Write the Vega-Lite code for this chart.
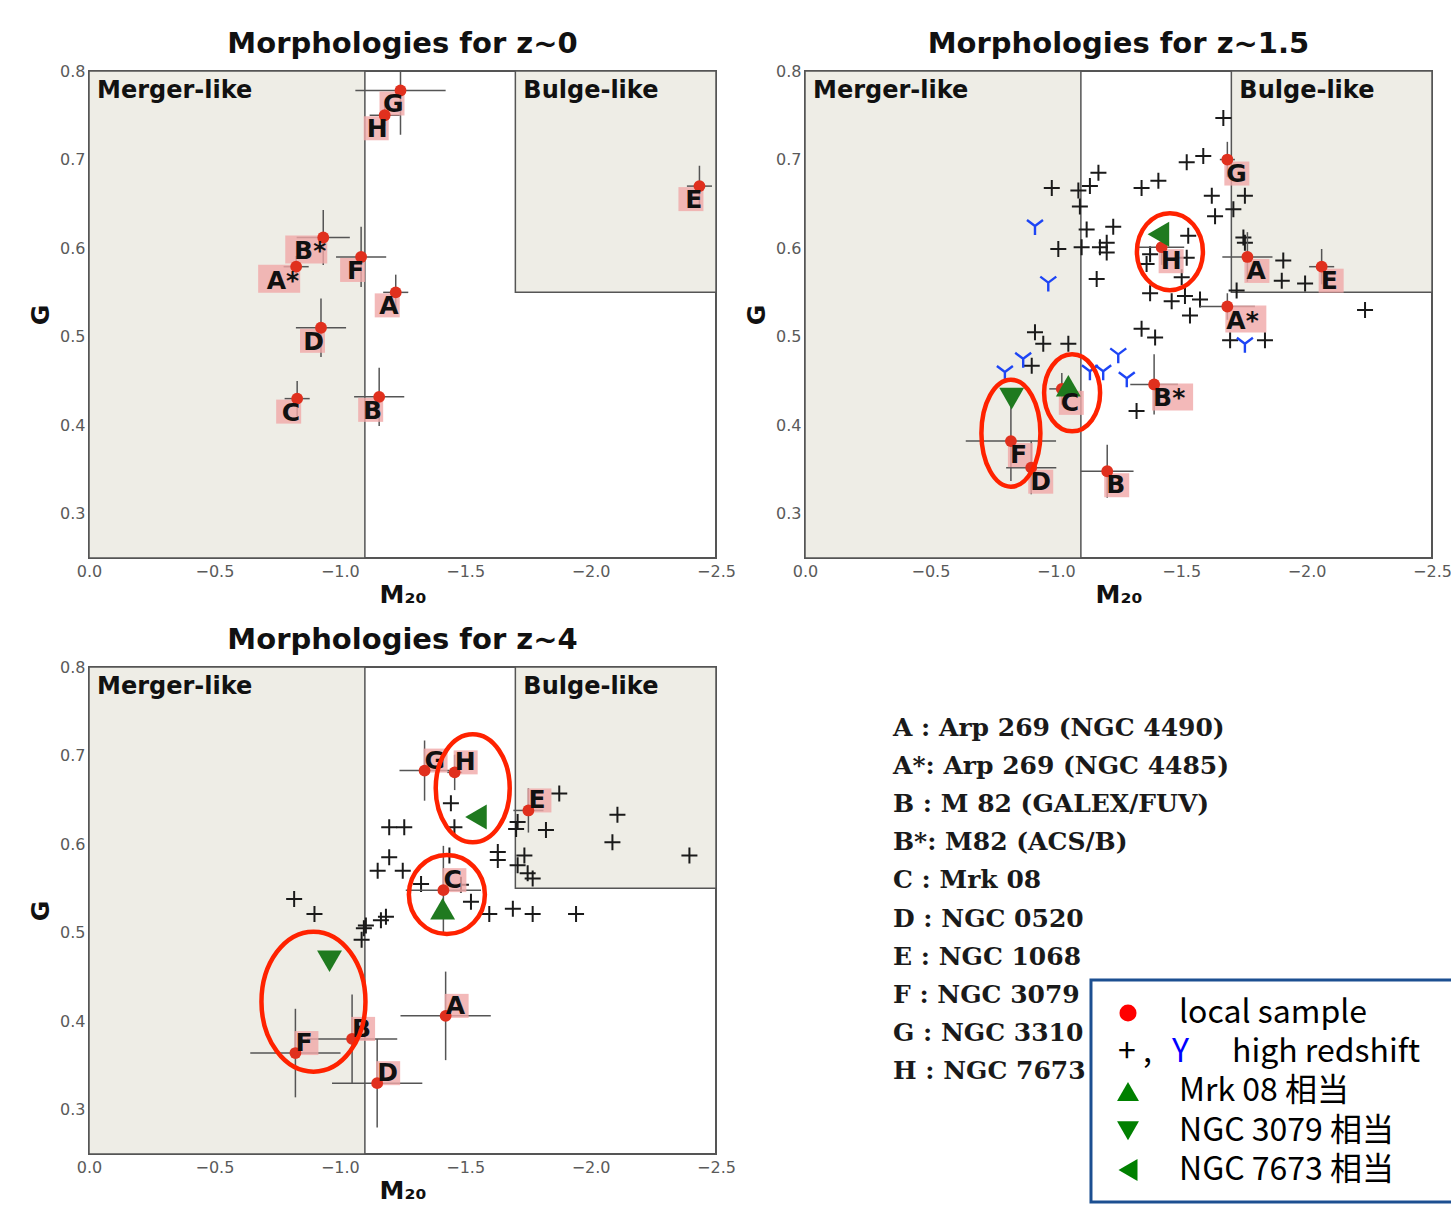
{
"$schema": "https://vega.github.io/schema/vega-lite/v6.json",
"background": "white",
"padding": {"left": 27, "top": 29, "right": 0, "bottom": 0},
"columns": 2,
"bounds": "flush",
"spacing": {"row": 109, "column": 89},
"resolve": {"scale": {"x": "independent", "y": "independent", "shape": "independent", "color": "independent"}},
"datasets": {
"regions": [
{"region": "Merger-like", "x1": 0, "x2": -1.1, "y1": 0.25, "y2": 0.8},
{"region": "Bulge-like", "x1": -1.7, "x2": -2.5, "y1": 0.55, "y2": 0.8}
],
"local": [
{"panel": "z~0", "label": "G", "M20": -1.242, "G": 0.778, "M20_lo": -1.062, "M20_hi": -1.422, "G_lo": 0.728, "G_hi": 0.828},
{"panel": "z~0", "label": "H", "M20": -1.179, "G": 0.750, "M20_lo": -1.119, "M20_hi": -1.239, "G_lo": 0.738, "G_hi": 0.762},
{"panel": "z~0", "label": "E", "M20": -2.434, "G": 0.670, "M20_lo": -2.384, "M20_hi": -2.484, "G_lo": 0.647, "G_hi": 0.693},
{"panel": "z~0", "label": "B*", "M20": -0.934, "G": 0.612, "M20_lo": -0.828, "M20_hi": -1.040, "G_lo": 0.581, "G_hi": 0.643},
{"panel": "z~0", "label": "A*", "M20": -0.826, "G": 0.579, "M20_lo": -0.776, "M20_hi": -0.876, "G_lo": 0.567, "G_hi": 0.591},
{"panel": "z~0", "label": "F", "M20": -1.085, "G": 0.590, "M20_lo": -0.985, "M20_hi": -1.185, "G_lo": 0.556, "G_hi": 0.624},
{"panel": "z~0", "label": "A", "M20": -1.223, "G": 0.550, "M20_lo": -1.173, "M20_hi": -1.273, "G_lo": 0.530, "G_hi": 0.570},
{"panel": "z~0", "label": "D", "M20": -0.925, "G": 0.510, "M20_lo": -0.825, "M20_hi": -1.025, "G_lo": 0.477, "G_hi": 0.543},
{"panel": "z~0", "label": "C", "M20": -0.830, "G": 0.430, "M20_lo": -0.780, "M20_hi": -0.880, "G_lo": 0.410, "G_hi": 0.450},
{"panel": "z~0", "label": "B", "M20": -1.157, "G": 0.432, "M20_lo": -1.057, "M20_hi": -1.257, "G_lo": 0.399, "G_hi": 0.465},
{"panel": "z~1.5", "label": "G", "M20": -1.684, "G": 0.700, "M20_lo": -1.654, "M20_hi": -1.714, "G_lo": 0.680, "G_hi": 0.720},
{"panel": "z~1.5", "label": "H", "M20": -1.422, "G": 0.601, "M20_lo": -1.332, "M20_hi": -1.512, "G_lo": 0.581, "G_hi": 0.621},
{"panel": "z~1.5", "label": "A", "M20": -1.764, "G": 0.590, "M20_lo": -1.664, "M20_hi": -1.864, "G_lo": 0.562, "G_hi": 0.618},
{"panel": "z~1.5", "label": "E", "M20": -2.060, "G": 0.579, "M20_lo": -2.010, "M20_hi": -2.110, "G_lo": 0.559, "G_hi": 0.599},
{"panel": "z~1.5", "label": "A*", "M20": -1.684, "G": 0.534, "M20_lo": -1.574, "M20_hi": -1.794, "G_lo": 0.519, "G_hi": 0.549},
{"panel": "z~1.5", "label": "B*", "M20": -1.392, "G": 0.446, "M20_lo": -1.297, "M20_hi": -1.487, "G_lo": 0.412, "G_hi": 0.480},
{"panel": "z~1.5", "label": "C", "M20": -1.024, "G": 0.441, "M20_lo": -0.974, "M20_hi": -1.074, "G_lo": 0.423, "G_hi": 0.459},
{"panel": "z~1.5", "label": "F", "M20": -0.821, "G": 0.382, "M20_lo": -0.641, "M20_hi": -1.001, "G_lo": 0.337, "G_hi": 0.427},
{"panel": "z~1.5", "label": "D", "M20": -0.902, "G": 0.352, "M20_lo": -0.802, "M20_hi": -1.002, "G_lo": 0.322, "G_hi": 0.382},
{"panel": "z~1.5", "label": "B", "M20": -1.205, "G": 0.348, "M20_lo": -1.100, "M20_hi": -1.310, "G_lo": 0.318, "G_hi": 0.378},
{"panel": "z~4", "label": "G", "M20": -1.338, "G": 0.683, "M20_lo": -1.238, "M20_hi": -1.438, "G_lo": 0.649, "G_hi": 0.717},
{"panel": "z~4", "label": "H", "M20": -1.458, "G": 0.681, "M20_lo": -1.428, "M20_hi": -1.488, "G_lo": 0.661, "G_hi": 0.701},
{"panel": "z~4", "label": "E", "M20": -1.752, "G": 0.638, "M20_lo": -1.692, "M20_hi": -1.812, "G_lo": 0.613, "G_hi": 0.663},
{"panel": "z~4", "label": "C", "M20": -1.413, "G": 0.548, "M20_lo": -1.263, "M20_hi": -1.563, "G_lo": 0.498, "G_hi": 0.598},
{"panel": "z~4", "label": "A", "M20": -1.422, "G": 0.406, "M20_lo": -1.242, "M20_hi": -1.602, "G_lo": 0.356, "G_hi": 0.456},
{"panel": "z~4", "label": "F", "M20": -0.823, "G": 0.364, "M20_lo": -0.643, "M20_hi": -1.003, "G_lo": 0.314, "G_hi": 0.414},
{"panel": "z~4", "label": "B", "M20": -1.049, "G": 0.380, "M20_lo": -0.869, "M20_hi": -1.229, "G_lo": 0.330, "G_hi": 0.430},
{"panel": "z~4", "label": "D", "M20": -1.149, "G": 0.330, "M20_lo": -0.969, "M20_hi": -1.329, "G_lo": 0.280, "G_hi": 0.380}
],
"highz": [
{"panel": "z~1.5", "type": "+", "M20": -1.668, "G": 0.747},
{"panel": "z~1.5", "type": "+", "M20": -1.588, "G": 0.704},
{"panel": "z~1.5", "type": "+", "M20": -1.522, "G": 0.697},
{"panel": "z~1.5", "type": "+", "M20": -1.409, "G": 0.676},
{"panel": "z~1.5", "type": "+", "M20": -1.342, "G": 0.668},
{"panel": "z~1.5", "type": "+", "M20": -0.984, "G": 0.668},
{"panel": "z~1.5", "type": "+", "M20": -1.170, "G": 0.685},
{"panel": "z~1.5", "type": "+", "M20": -1.136, "G": 0.670},
{"panel": "z~1.5", "type": "+", "M20": -1.090, "G": 0.665},
{"panel": "z~1.5", "type": "+", "M20": -1.096, "G": 0.647},
{"panel": "z~1.5", "type": "+", "M20": -1.622, "G": 0.659},
{"panel": "z~1.5", "type": "+", "M20": -1.754, "G": 0.659},
{"panel": "z~1.5", "type": "+", "M20": -1.708, "G": 0.644},
{"panel": "z~1.5", "type": "+", "M20": -1.635, "G": 0.636},
{"panel": "z~1.5", "type": "+", "M20": -1.123, "G": 0.621},
{"panel": "z~1.5", "type": "+", "M20": -1.229, "G": 0.624},
{"panel": "z~1.5", "type": "+", "M20": -1.203, "G": 0.606},
{"panel": "z~1.5", "type": "+", "M20": -1.103, "G": 0.601},
{"panel": "z~1.5", "type": "+", "M20": -1.010, "G": 0.599},
{"panel": "z~1.5", "type": "+", "M20": -1.203, "G": 0.595},
{"panel": "z~1.5", "type": "+", "M20": -1.163, "G": 0.565},
{"panel": "z~1.5", "type": "+", "M20": -1.528, "G": 0.614},
{"panel": "z~1.5", "type": "+", "M20": -1.748, "G": 0.612},
{"panel": "z~1.5", "type": "+", "M20": -1.754, "G": 0.606},
{"panel": "z~1.5", "type": "+", "M20": -1.907, "G": 0.586},
{"panel": "z~1.5", "type": "+", "M20": -1.901, "G": 0.563},
{"panel": "z~1.5", "type": "+", "M20": -1.994, "G": 0.560},
{"panel": "z~1.5", "type": "+", "M20": -1.721, "G": 0.552},
{"panel": "z~1.5", "type": "+", "M20": -1.376, "G": 0.549},
{"panel": "z~1.5", "type": "+", "M20": -1.462, "G": 0.540},
{"panel": "z~1.5", "type": "+", "M20": -1.515, "G": 0.546},
{"panel": "z~1.5", "type": "+", "M20": -1.575, "G": 0.542},
{"panel": "z~1.5", "type": "+", "M20": -1.535, "G": 0.524},
{"panel": "z~1.5", "type": "+", "M20": -2.233, "G": 0.530},
{"panel": "z~1.5", "type": "+", "M20": -1.342, "G": 0.509},
{"panel": "z~1.5", "type": "+", "M20": -1.396, "G": 0.499},
{"panel": "z~1.5", "type": "+", "M20": -1.695, "G": 0.496},
{"panel": "z~1.5", "type": "+", "M20": -1.834, "G": 0.496},
{"panel": "z~1.5", "type": "+", "M20": -0.917, "G": 0.505},
{"panel": "z~1.5", "type": "+", "M20": -0.950, "G": 0.492},
{"panel": "z~1.5", "type": "+", "M20": -1.050, "G": 0.492},
{"panel": "z~1.5", "type": "+", "M20": -0.904, "G": 0.467},
{"panel": "z~1.5", "type": "+", "M20": -1.322, "G": 0.416},
{"panel": "z~1.5", "type": "+", "M20": -1.376, "G": 0.593},
{"panel": "z~1.5", "type": "+", "M20": -1.522, "G": 0.589},
{"panel": "z~1.5", "type": "+", "M20": -1.176, "G": 0.601},
{"panel": "z~1.5", "type": "+", "M20": -1.362, "G": 0.582},
{"panel": "z~1.5", "type": "+", "M20": -1.502, "G": 0.567},
{"panel": "z~1.5", "type": "Y", "M20": -0.917, "G": 0.625},
{"panel": "z~1.5", "type": "Y", "M20": -0.970, "G": 0.561},
{"panel": "z~1.5", "type": "Y", "M20": -1.754, "G": 0.492},
{"panel": "z~1.5", "type": "Y", "M20": -0.870, "G": 0.475},
{"panel": "z~1.5", "type": "Y", "M20": -0.797, "G": 0.460},
{"panel": "z~1.5", "type": "Y", "M20": -1.249, "G": 0.480},
{"panel": "z~1.5", "type": "Y", "M20": -1.136, "G": 0.461},
{"panel": "z~1.5", "type": "Y", "M20": -1.189, "G": 0.461},
{"panel": "z~1.5", "type": "Y", "M20": -1.283, "G": 0.453},
{"panel": "z~4", "type": "+", "M20": -0.818, "G": 0.538},
{"panel": "z~4", "type": "+", "M20": -0.899, "G": 0.521},
{"panel": "z~4", "type": "+", "M20": -1.096, "G": 0.505},
{"panel": "z~4", "type": "+", "M20": -1.087, "G": 0.492},
{"panel": "z~4", "type": "+", "M20": -1.164, "G": 0.514},
{"panel": "z~4", "type": "+", "M20": -1.184, "G": 0.518},
{"panel": "z~4", "type": "+", "M20": -1.104, "G": 0.508},
{"panel": "z~4", "type": "+", "M20": -1.197, "G": 0.585},
{"panel": "z~4", "type": "+", "M20": -1.151, "G": 0.570},
{"panel": "z~4", "type": "+", "M20": -1.251, "G": 0.570},
{"panel": "z~4", "type": "+", "M20": -1.197, "G": 0.619},
{"panel": "z~4", "type": "+", "M20": -1.257, "G": 0.619},
{"panel": "z~4", "type": "+", "M20": -1.443, "G": 0.646},
{"panel": "z~4", "type": "+", "M20": -1.457, "G": 0.619},
{"panel": "z~4", "type": "+", "M20": -1.437, "G": 0.587},
{"panel": "z~4", "type": "+", "M20": -1.324, "G": 0.555},
{"panel": "z~4", "type": "+", "M20": -1.483, "G": 0.554},
{"panel": "z~4", "type": "+", "M20": -1.523, "G": 0.535},
{"panel": "z~4", "type": "+", "M20": -1.596, "G": 0.521},
{"panel": "z~4", "type": "+", "M20": -1.690, "G": 0.527},
{"panel": "z~4", "type": "+", "M20": -1.769, "G": 0.521},
{"panel": "z~4", "type": "+", "M20": -1.942, "G": 0.521},
{"panel": "z~4", "type": "+", "M20": -1.630, "G": 0.591},
{"panel": "z~4", "type": "+", "M20": -1.630, "G": 0.582},
{"panel": "z~4", "type": "+", "M20": -1.703, "G": 0.617},
{"panel": "z~4", "type": "+", "M20": -1.709, "G": 0.625},
{"panel": "z~4", "type": "+", "M20": -1.822, "G": 0.616},
{"panel": "z~4", "type": "+", "M20": -1.736, "G": 0.587},
{"panel": "z~4", "type": "+", "M20": -1.709, "G": 0.576},
{"panel": "z~4", "type": "+", "M20": -1.749, "G": 0.567},
{"panel": "z~4", "type": "+", "M20": -1.769, "G": 0.561},
{"panel": "z~4", "type": "+", "M20": -1.875, "G": 0.657},
{"panel": "z~4", "type": "+", "M20": -2.107, "G": 0.633},
{"panel": "z~4", "type": "+", "M20": -2.087, "G": 0.602},
{"panel": "z~4", "type": "+", "M20": -2.394, "G": 0.587}
],
"analog": [
{"panel": "z~1.5", "kind": "Mrk 08 相当", "M20": -1.050, "G": 0.4445},
{"panel": "z~1.5", "kind": "NGC 3079 相当", "M20": -0.824, "G": 0.430},
{"panel": "z~1.5", "kind": "NGC 7673 相当", "M20": -1.409, "G": 0.6157},
{"panel": "z~4", "kind": "Mrk 08 相当", "M20": -1.410, "G": 0.527},
{"panel": "z~4", "kind": "NGC 3079 相当", "M20": -0.959, "G": 0.4677},
{"panel": "z~4", "kind": "NGC 7673 相当", "M20": -1.543, "G": 0.6306}
],
"rings": [
{"panel": "z~1.5", "target": "H", "M20": -1.455, "G": 0.596},
{"panel": "z~1.5", "target": "C", "M20": -1.065, "G": 0.4365},
{"panel": "z~1.5", "target": "F", "M20": -0.821, "G": 0.391},
{"panel": "z~4", "target": "H", "M20": -1.530, "G": 0.663},
{"panel": "z~4", "target": "C", "M20": -1.427, "G": 0.543},
{"panel": "z~4", "target": "F", "M20": -0.895, "G": 0.422}
],
"catalog": [
{"line": 1, "text": "A : Arp 269 (NGC 4490)"},
{"line": 2, "text": "A*: Arp 269 (NGC 4485)"},
{"line": 3, "text": "B : M 82 (GALEX/FUV)"},
{"line": 4, "text": "B*: M82 (ACS/B)"},
{"line": 5, "text": "C : Mrk 08"},
{"line": 6, "text": "D : NGC 0520"},
{"line": 7, "text": "E : NGC 1068"},
{"line": 8, "text": "F : NGC 3079"},
{"line": 9, "text": "G : NGC 3310"},
{"line": 10, "text": "H : NGC 7673"}
],
"legend": [
{"order": 1, "label": "local sample"},
{"order": 2, "label": "high redshift"},
{"order": 3, "label": "Mrk 08 相当"},
{"order": 4, "label": "NGC 3079 相当"},
{"order": 5, "label": "NGC 7673 相当"}
]
},
"concat": [
{
"title": "Morphologies for z~0",
"width": 627, "height": 487,
"layer": [
{"data": {"name": "regions"}, "mark": {"type": "rect", "fill": "#eeede6", "stroke": "#555555", "strokeWidth": 1.5},
 "encoding": {"x": {"field": "x1", "type": "quantitative", "scale": {"domain": [-2.5, 0], "reverse": true, "nice": false, "zero": false}, "axis": {"title": "M₂₀", "values": [0, -0.5, -1, -1.5, -2, -2.5], "format": ".1f"}},
  "x2": {"field": "x2"},
  "y": {"field": "y1", "type": "quantitative", "scale": {"domain": [0.25, 0.8], "nice": false, "zero": false}, "axis": {"title": "G", "values": [0.3, 0.4, 0.5, 0.6, 0.7, 0.8], "format": ".1f"}},
  "y2": {"field": "y2"}}},
{"data": {"name": "regions"}, "mark": {"type": "text", "align": "left", "baseline": "middle", "dx": 8, "dy": 20, "fontSize": 24, "fontWeight": "bold", "color": "#111111"},
 "encoding": {"x": {"field": "x1", "type": "quantitative"}, "y": {"field": "y2", "type": "quantitative"}, "text": {"field": "region"}}},
{"data": {"name": "local"}, "transform": [{"filter": "datum.panel == 'z~0'"}], "mark": {"type": "rule", "color": "#555555", "strokeWidth": 1.5, "clip": true},
 "encoding": {"x": {"field": "M20_lo", "type": "quantitative"}, "x2": {"field": "M20_hi"}, "y": {"field": "G", "type": "quantitative"}}},
{"data": {"name": "local"}, "transform": [{"filter": "datum.panel == 'z~0'"}], "mark": {"type": "rule", "color": "#555555", "strokeWidth": 1.5, "clip": true},
 "encoding": {"x": {"field": "M20", "type": "quantitative"}, "y": {"field": "G_lo", "type": "quantitative"}, "y2": {"field": "G_hi"}}},
{"data": {"name": "local"}, "transform": [{"filter": "datum.panel == 'z~0' && length(datum.label) == 1"}], "mark": {"type": "point", "shape": "M -21 1 L 4 1 L 4 25 L -21 25 Z", "size": 4, "filled": true, "color": "#f0a8a8", "opacity": 0.8, "strokeWidth": 0},
 "encoding": {"x": {"field": "M20", "type": "quantitative"}, "y": {"field": "G", "type": "quantitative"}}},
{"data": {"name": "local"}, "transform": [{"filter": "datum.panel == 'z~0' && length(datum.label) == 2"}], "mark": {"type": "point", "shape": "M -38 -2 L 4 -2 L 4 26 L -38 26 Z", "size": 4, "filled": true, "color": "#f0a8a8", "opacity": 0.8, "strokeWidth": 0},
 "encoding": {"x": {"field": "M20", "type": "quantitative"}, "y": {"field": "G", "type": "quantitative"}}},
{"data": {"name": "local"}, "transform": [{"filter": "datum.panel == 'z~0'"}], "mark": {"type": "point", "shape": "circle", "filled": true, "size": 140, "color": "#e0301e", "opacity": 1, "clip": true},
 "encoding": {"x": {"field": "M20", "type": "quantitative"}, "y": {"field": "G", "type": "quantitative"}}},
{"data": {"name": "local"}, "transform": [{"filter": "datum.panel == 'z~0'"}], "mark": {"type": "text", "align": "right", "baseline": "middle", "dx": 3, "dy": 14, "fontSize": 25, "fontWeight": "bold", "color": "#111111"},
 "encoding": {"x": {"field": "M20", "type": "quantitative"}, "y": {"field": "G", "type": "quantitative"}, "text": {"field": "label"}}}
]
},
{
"title": "Morphologies for z~1.5",
"width": 627, "height": 487,
"resolve": {"scale": {"shape": "independent"}},
"layer": [
{"data": {"name": "regions"}, "mark": {"type": "rect", "fill": "#eeede6", "stroke": "#555555", "strokeWidth": 1.5},
 "encoding": {"x": {"field": "x1", "type": "quantitative", "scale": {"domain": [-2.5, 0], "reverse": true, "nice": false, "zero": false}, "axis": {"title": "M₂₀", "values": [0, -0.5, -1, -1.5, -2, -2.5], "format": ".1f"}},
  "x2": {"field": "x2"},
  "y": {"field": "y1", "type": "quantitative", "scale": {"domain": [0.25, 0.8], "nice": false, "zero": false}, "axis": {"title": "G", "values": [0.3, 0.4, 0.5, 0.6, 0.7, 0.8], "format": ".1f"}},
  "y2": {"field": "y2"}}},
{"data": {"name": "regions"}, "mark": {"type": "text", "align": "left", "baseline": "middle", "dx": 8, "dy": 20, "fontSize": 24, "fontWeight": "bold", "color": "#111111"},
 "encoding": {"x": {"field": "x1", "type": "quantitative"}, "y": {"field": "y2", "type": "quantitative"}, "text": {"field": "region"}}},
{"data": {"name": "highz"}, "transform": [{"filter": "datum.panel == 'z~1.5' && datum.type == '+'"}], "mark": {"type": "point", "shape": "M -8 0 L 8 0 M 0 -8 L 0 8", "size": 4, "filled": false, "color": "#1a1a1a", "strokeWidth": 2, "opacity": 1},
 "encoding": {"x": {"field": "M20", "type": "quantitative"}, "y": {"field": "G", "type": "quantitative"}}},
{"data": {"name": "highz"}, "transform": [{"filter": "datum.panel == 'z~1.5' && datum.type == 'Y'"}], "mark": {"type": "point", "shape": "M 0 0 L 0 9 M 0 0 L -8 -6 M 0 0 L 8 -6", "size": 4, "filled": false, "color": "#1d45f5", "strokeWidth": 2.4, "opacity": 1},
 "encoding": {"x": {"field": "M20", "type": "quantitative"}, "y": {"field": "G", "type": "quantitative"}}},
{"data": {"name": "local"}, "transform": [{"filter": "datum.panel == 'z~1.5'"}], "mark": {"type": "rule", "color": "#555555", "strokeWidth": 1.5, "clip": true},
 "encoding": {"x": {"field": "M20_lo", "type": "quantitative"}, "x2": {"field": "M20_hi"}, "y": {"field": "G", "type": "quantitative"}}},
{"data": {"name": "local"}, "transform": [{"filter": "datum.panel == 'z~1.5'"}], "mark": {"type": "rule", "color": "#555555", "strokeWidth": 1.5, "clip": true},
 "encoding": {"x": {"field": "M20", "type": "quantitative"}, "y": {"field": "G_lo", "type": "quantitative"}, "y2": {"field": "G_hi"}}},
{"data": {"name": "local"}, "transform": [{"filter": "datum.panel == 'z~1.5' && length(datum.label) == 1"}], "mark": {"type": "point", "shape": "M -3 2 L 22 2 L 22 26 L -3 26 Z", "size": 4, "filled": true, "color": "#f0a8a8", "opacity": 0.8, "strokeWidth": 0},
 "encoding": {"x": {"field": "M20", "type": "quantitative"}, "y": {"field": "G", "type": "quantitative"}}},
{"data": {"name": "local"}, "transform": [{"filter": "datum.panel == 'z~1.5' && length(datum.label) == 2"}], "mark": {"type": "point", "shape": "M -2 -1 L 39 -1 L 39 26 L -2 26 Z", "size": 4, "filled": true, "color": "#f0a8a8", "opacity": 0.8, "strokeWidth": 0},
 "encoding": {"x": {"field": "M20", "type": "quantitative"}, "y": {"field": "G", "type": "quantitative"}}},
{"data": {"name": "local"}, "transform": [{"filter": "datum.panel == 'z~1.5'"}], "mark": {"type": "point", "shape": "circle", "filled": true, "size": 140, "color": "#e0301e", "opacity": 1, "clip": true},
 "encoding": {"x": {"field": "M20", "type": "quantitative"}, "y": {"field": "G", "type": "quantitative"}}},
{"data": {"name": "analog"}, "transform": [{"filter": "datum.panel == 'z~1.5'"}], "mark": {"type": "point", "filled": true, "size": 620, "color": "#1f7a1f", "opacity": 1},
 "encoding": {"x": {"field": "M20", "type": "quantitative"}, "y": {"field": "G", "type": "quantitative"},
  "shape": {"field": "kind", "type": "nominal", "scale": {"domain": ["Mrk 08 相当", "NGC 3079 相当", "NGC 7673 相当"], "range": ["triangle-up", "triangle-down", "triangle-left"]}, "legend": null}}},
{"data": {"name": "local"}, "transform": [{"filter": "datum.panel == 'z~1.5'"}], "mark": {"type": "text", "align": "left", "baseline": "middle", "dx": -1, "dy": 14, "fontSize": 25, "fontWeight": "bold", "color": "#111111"},
 "encoding": {"x": {"field": "M20", "type": "quantitative"}, "y": {"field": "G", "type": "quantitative"}, "text": {"field": "label"}}},
{"data": {"name": "rings"}, "transform": [{"filter": "datum.panel == 'z~1.5'"}], "mark": {"type": "point", "filled": false, "size": 4, "color": "#ff2200", "strokeWidth": 4.5, "opacity": 1},
 "encoding": {"x": {"field": "M20", "type": "quantitative"}, "y": {"field": "G", "type": "quantitative"},
  "shape": {"field": "target", "type": "nominal", "scale": {"domain": ["H", "C", "F"], "range": ["M -33 0 A 33 38.5 0 1 0 33 0 A 33 38.5 0 1 0 -33 0 Z", "M -28 0 A 28 38.5 0 1 0 28 0 A 28 38.5 0 1 0 -28 0 Z", "M -29.5 0 A 29.5 53.5 0 1 0 29.5 0 A 29.5 53.5 0 1 0 -29.5 0 Z"]}, "legend": null}}}
]
},
{
"title": "Morphologies for z~4",
"width": 627, "height": 487,
"resolve": {"scale": {"shape": "independent"}},
"layer": [
{"data": {"name": "regions"}, "mark": {"type": "rect", "fill": "#eeede6", "stroke": "#555555", "strokeWidth": 1.5},
 "encoding": {"x": {"field": "x1", "type": "quantitative", "scale": {"domain": [-2.5, 0], "reverse": true, "nice": false, "zero": false}, "axis": {"title": "M₂₀", "values": [0, -0.5, -1, -1.5, -2, -2.5], "format": ".1f"}},
  "x2": {"field": "x2"},
  "y": {"field": "y1", "type": "quantitative", "scale": {"domain": [0.25, 0.8], "nice": false, "zero": false}, "axis": {"title": "G", "values": [0.3, 0.4, 0.5, 0.6, 0.7, 0.8], "format": ".1f"}},
  "y2": {"field": "y2"}}},
{"data": {"name": "regions"}, "mark": {"type": "text", "align": "left", "baseline": "middle", "dx": 8, "dy": 20, "fontSize": 24, "fontWeight": "bold", "color": "#111111"},
 "encoding": {"x": {"field": "x1", "type": "quantitative"}, "y": {"field": "y2", "type": "quantitative"}, "text": {"field": "region"}}},
{"data": {"name": "highz"}, "transform": [{"filter": "datum.panel == 'z~4' && datum.type == '+'"}], "mark": {"type": "point", "shape": "M -8 0 L 8 0 M 0 -8 L 0 8", "size": 4, "filled": false, "color": "#1a1a1a", "strokeWidth": 2, "opacity": 1},
 "encoding": {"x": {"field": "M20", "type": "quantitative"}, "y": {"field": "G", "type": "quantitative"}}},
{"data": {"name": "local"}, "transform": [{"filter": "datum.panel == 'z~4'"}], "mark": {"type": "rule", "color": "#555555", "strokeWidth": 1.5, "clip": true},
 "encoding": {"x": {"field": "M20_lo", "type": "quantitative"}, "x2": {"field": "M20_hi"}, "y": {"field": "G", "type": "quantitative"}}},
{"data": {"name": "local"}, "transform": [{"filter": "datum.panel == 'z~4'"}], "mark": {"type": "rule", "color": "#555555", "strokeWidth": 1.5, "clip": true},
 "encoding": {"x": {"field": "M20", "type": "quantitative"}, "y": {"field": "G_lo", "type": "quantitative"}, "y2": {"field": "G_hi"}}},
{"data": {"name": "local"}, "transform": [{"filter": "datum.panel == 'z~4'"}], "mark": {"type": "point", "shape": "M -1 -22 L 23 -22 L 23 2 L -1 2 Z", "size": 4, "filled": true, "color": "#f0a8a8", "opacity": 0.8, "strokeWidth": 0},
 "encoding": {"x": {"field": "M20", "type": "quantitative"}, "y": {"field": "G", "type": "quantitative"}}},
{"data": {"name": "local"}, "transform": [{"filter": "datum.panel == 'z~4'"}], "mark": {"type": "point", "shape": "circle", "filled": true, "size": 140, "color": "#e0301e", "opacity": 1, "clip": true},
 "encoding": {"x": {"field": "M20", "type": "quantitative"}, "y": {"field": "G", "type": "quantitative"}}},
{"data": {"name": "analog"}, "transform": [{"filter": "datum.panel == 'z~4'"}], "mark": {"type": "point", "filled": true, "size": 620, "color": "#1f7a1f", "opacity": 1},
 "encoding": {"x": {"field": "M20", "type": "quantitative"}, "y": {"field": "G", "type": "quantitative"},
  "shape": {"field": "kind", "type": "nominal", "scale": {"domain": ["Mrk 08 相当", "NGC 3079 相当", "NGC 7673 相当"], "range": ["triangle-up", "triangle-down", "triangle-left"]}, "legend": null}}},
{"data": {"name": "local"}, "transform": [{"filter": "datum.panel == 'z~4'"}], "mark": {"type": "text", "align": "left", "baseline": "middle", "dx": 0, "dy": -10, "fontSize": 25, "fontWeight": "bold", "color": "#111111"},
 "encoding": {"x": {"field": "M20", "type": "quantitative"}, "y": {"field": "G", "type": "quantitative"}, "text": {"field": "label"}}},
{"data": {"name": "rings"}, "transform": [{"filter": "datum.panel == 'z~4'"}], "mark": {"type": "point", "filled": false, "size": 4, "color": "#ff2200", "strokeWidth": 4.5, "opacity": 1},
 "encoding": {"x": {"field": "M20", "type": "quantitative"}, "y": {"field": "G", "type": "quantitative"},
  "shape": {"field": "target", "type": "nominal", "scale": {"domain": ["H", "C", "F"], "range": ["M -37 0 A 37 54 0 1 0 37 0 A 37 54 0 1 0 -37 0 Z", "M -38 0 A 38 39.5 0 1 0 38 0 A 38 39.5 0 1 0 -38 0 Z", "M -52 0 A 52 70 0 1 0 52 0 A 52 70 0 1 0 -52 0 Z"]}, "legend": null}}}
]
},
{
"width": 646, "height": 545,
"view": {"stroke": null},
"resolve": {"scale": {"y": "independent"}},
"layer": [
{"data": {"name": "catalog"}, "mark": {"type": "text", "align": "left", "baseline": "middle", "font": "DejaVu Serif", "fontSize": 25, "fontWeight": "bold", "color": "#1a1a1a"},
 "encoding": {"x": {"datum": 0.1362, "type": "quantitative", "scale": {"domain": [0, 1], "nice": false, "zero": false}, "axis": null},
  "y": {"field": "line", "type": "quantitative", "scale": {"domain": [-0.6, 13.7], "reverse": true, "nice": false, "zero": false}, "axis": null},
  "text": {"field": "text"}}},
{"layer": [
 {"data": {"values": [{}]}, "mark": {"type": "rect", "fill": "white", "stroke": "#1c4f91", "strokeWidth": 3, "clip": true},
  "encoding": {"x": {"datum": 0.4427, "type": "quantitative"}, "x2": {"datum": 1.02},
   "y": {"datum": 0.16, "type": "quantitative", "scale": {"domain": [-7.815, 6.07], "reverse": true, "nice": false, "zero": false}, "axis": null}, "y2": {"datum": 5.815}}},
 {"data": {"name": "legend"}, "transform": [{"filter": "datum.order == 1"}], "mark": {"type": "point", "shape": "circle", "filled": true, "size": 290, "color": "#ff0000", "opacity": 1},
  "encoding": {"x": {"datum": 0.5, "type": "quantitative"}, "y": {"field": "order", "type": "quantitative"}}},
 {"data": {"name": "legend"}, "transform": [{"filter": "datum.order >= 3"}], "mark": {"type": "point", "filled": true, "size": 480, "color": "#008000", "opacity": 1},
  "encoding": {"x": {"datum": 0.5, "type": "quantitative"}, "y": {"field": "order", "type": "quantitative"},
   "shape": {"field": "label", "type": "nominal", "scale": {"domain": ["Mrk 08 相当", "NGC 3079 相当", "NGC 7673 相当"], "range": ["triangle-up", "triangle-down", "triangle-left"]}, "legend": null}}},
 {"data": {"name": "legend"}, "transform": [{"filter": "datum.order == 2"}], "mark": {"type": "text", "align": "left", "baseline": "middle", "font": "Noto Sans CJK JP", "fontSize": 32, "color": "#000000", "text": "+ ,"},
  "encoding": {"x": {"datum": 0.4845, "type": "quantitative"}, "y": {"field": "order", "type": "quantitative"}}},
 {"data": {"name": "legend"}, "transform": [{"filter": "datum.order == 2"}], "mark": {"type": "text", "align": "left", "baseline": "middle", "font": "Noto Sans CJK JP", "fontSize": 32, "color": "#0000ff", "text": "Y"},
  "encoding": {"x": {"datum": 0.568, "type": "quantitative"}, "y": {"field": "order", "type": "quantitative"}}},
 {"data": {"name": "legend"}, "transform": [{"filter": "datum.order != 2"}], "mark": {"type": "text", "align": "left", "baseline": "middle", "font": "Noto Sans CJK JP", "fontSize": 32, "color": "#000000"},
  "encoding": {"x": {"datum": 0.579, "type": "quantitative"}, "y": {"field": "order", "type": "quantitative"}, "text": {"field": "label"}}},
 {"data": {"name": "legend"}, "transform": [{"filter": "datum.order == 2"}], "mark": {"type": "text", "align": "left", "baseline": "middle", "font": "Noto Sans CJK JP", "fontSize": 32, "color": "#000000"},
  "encoding": {"x": {"datum": 0.661, "type": "quantitative"}, "y": {"field": "order", "type": "quantitative"}, "text": {"field": "label"}}}
]}
]
}
],
"config": {
 "font": "DejaVu Sans",
 "view": {"stroke": "#555555", "strokeWidth": 2},
 "axis": {"grid": false, "ticks": false, "domain": false, "labelFontSize": 16, "labelColor": "#5a5a5a", "titleFontSize": 25, "titleFontWeight": "bold", "titleColor": "#111111"},
 "axisX": {"labelPadding": 5, "titlePadding": 3, "labelFlush": false},
 "axisY": {"labelPadding": 4, "titlePadding": 6},
 "title": {"fontSize": 29, "fontWeight": "bold", "color": "#111111", "offset": 4}
}
}
